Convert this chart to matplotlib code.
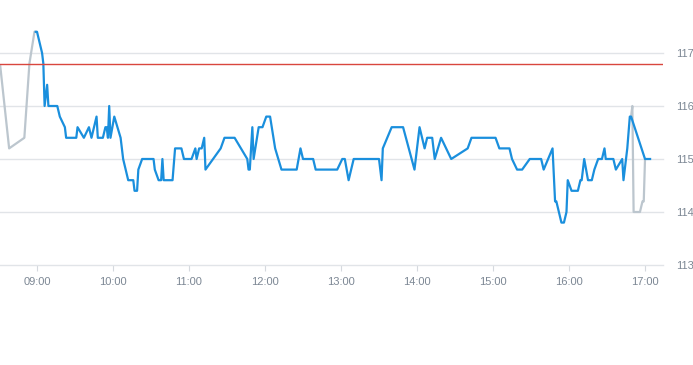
import matplotlib
matplotlib.use('Agg')
import matplotlib.pyplot as plt
import matplotlib.dates as mdates
from datetime import datetime

day = '2024-01-02 '

# main session (blue)
times = ['08:59', '09:00', '09:04', '09:05', '09:06', '09:08', '09:09', '09:16', '09:18', '09:22',
         '09:23', '09:31', '09:32', '09:37', '09:41', '09:43', '09:47', '09:48', '09:52', '09:54',
         '09:55', '09:56', '09:57', '09:58', '10:01', '10:06', '10:08', '10:10', '10:12', '10:16',
         '10:17', '10:19', '10:20', '10:23', '10:32', '10:33', '10:36', '10:38', '10:39', '10:40',
         '10:47', '10:49', '10:54', '10:56', '11:02', '11:05', '11:06', '11:08', '11:10', '11:12',
         '11:13', '11:25', '11:28', '11:36', '11:46', '11:47', '11:48', '11:50', '11:51', '11:55',
         '11:58', '12:01', '12:04', '12:08', '12:13', '12:25', '12:28', '12:30', '12:38', '12:40',
         '12:57', '13:01', '13:03', '13:06', '13:10', '13:30', '13:32', '13:33', '13:40', '13:49',
         '13:58', '14:02', '14:06', '14:08', '14:12', '14:14', '14:19', '14:27', '14:40', '14:43',
         '15:02', '15:05', '15:13', '15:15', '15:19', '15:23', '15:29', '15:38', '15:40', '15:47',
         '15:49', '15:50', '15:52', '15:54', '15:56', '15:58', '15:59', '16:02', '16:07', '16:09',
         '16:10', '16:12', '16:15', '16:18', '16:20', '16:23', '16:26', '16:28', '16:29', '16:35',
         '16:37', '16:42', '16:43', '16:46', '16:48', '16:49', '17:00', '17:04']
values = [117.4, 117.4, 117.0, 116.8, 116.0, 116.4, 116.0, 116.0, 115.8, 115.6,
          115.4, 115.4, 115.6, 115.4, 115.6, 115.4, 115.8, 115.4, 115.4, 115.6,
          115.6, 115.4, 116.0, 115.4, 115.8, 115.4, 115.0, 114.8, 114.6, 114.6,
          114.4, 114.4, 114.8, 115.0, 115.0, 114.8, 114.6, 114.6, 115.0, 114.6,
          114.6, 115.2, 115.2, 115.0, 115.0, 115.2, 115.0, 115.2, 115.2, 115.4,
          114.8, 115.2, 115.4, 115.4, 115.0, 114.8, 114.8, 115.6, 115.0, 115.6,
          115.6, 115.8, 115.8, 115.2, 114.8, 114.8, 115.2, 115.0, 115.0, 114.8,
          114.8, 115.0, 115.0, 114.6, 115.0, 115.0, 114.6, 115.2, 115.6, 115.6,
          114.8, 115.6, 115.2, 115.4, 115.4, 115.0, 115.4, 115.0, 115.2, 115.4,
          115.4, 115.2, 115.2, 115.0, 114.8, 114.8, 115.0, 115.0, 114.8, 115.2,
          114.2, 114.2, 114.0, 113.8, 113.8, 114.0, 114.6, 114.4, 114.4, 114.6,
          114.6, 115.0, 114.6, 114.6, 114.8, 115.0, 115.0, 115.2, 115.0, 115.0,
          114.8, 115.0, 114.6, 115.2, 115.8, 115.8, 115.0, 115.0]

# pre-market and closing auction (grey)
pre_times = ['08:31', '08:38', '08:50', '08:54', '08:58', '08:59']
pre_values = [116.75, 115.2, 115.4, 116.8, 117.4, 117.4]
post_times = ['16:49', '16:50', '16:51', '16:56', '16:58', '16:59', '17:00']
post_values = [115.8, 116.0, 114.0, 114.0, 114.2, 114.2, 115.0]

ref_level = 116.8
hour_ticks = ['09:00', '10:00', '11:00', '12:00', '13:00', '14:00', '15:00', '16:00', '17:00']
y_ticks = [113, 114, 115, 116, 117]


def to_dt(lst):
    return [datetime.strptime(day + t, '%Y-%m-%d %H:%M') for t in lst]


fig = plt.figure(figsize=(6.93, 3.65), dpi=100)
ax = fig.add_axes([0, 0.274, 663 / 693, 0.726])

ax.plot(to_dt(pre_times), pre_values, color='#bcc6ce', lw=1.6, zorder=2)
ax.plot(to_dt(post_times), post_values, color='#bcc6ce', lw=1.6, zorder=2)
ax.plot(to_dt(times), values, color='#1a8fdd', lw=1.6, zorder=3)
ax.axhline(ref_level, color='#d9463e', lw=1, zorder=4)

ax.set_ylim(113, 118)
ax.set_xlim(datetime.strptime(day + '08:30:47', '%Y-%m-%d %H:%M:%S'),
            datetime.strptime(day + '17:14:12', '%Y-%m-%d %H:%M:%S'))

ax.set_yticks(y_ticks)
ax.yaxis.tick_right()
ax.grid(axis='y', color='#e1e4e8', lw=1)
for gl in ax.get_ygridlines():
    gl.set_clip_on(False)
ax.set_xticks(to_dt(hour_ticks))
ax.xaxis.set_major_formatter(mdates.DateFormatter('%H:%M'))

for s in ['top', 'left', 'right', 'bottom']:
    ax.spines[s].set_visible(False)
ax.tick_params(axis='y', length=0, pad=9.4, labelsize=8, labelcolor='#7c8794')
ax.tick_params(axis='x', length=4, color='#d5d9de', pad=4.5, labelsize=8, labelcolor='#7c8794')
for lab in ax.get_xticklabels() + ax.get_yticklabels():
    lab.set_fontfamily('Liberation Sans')

fig.savefig('out.png', dpi=100)
